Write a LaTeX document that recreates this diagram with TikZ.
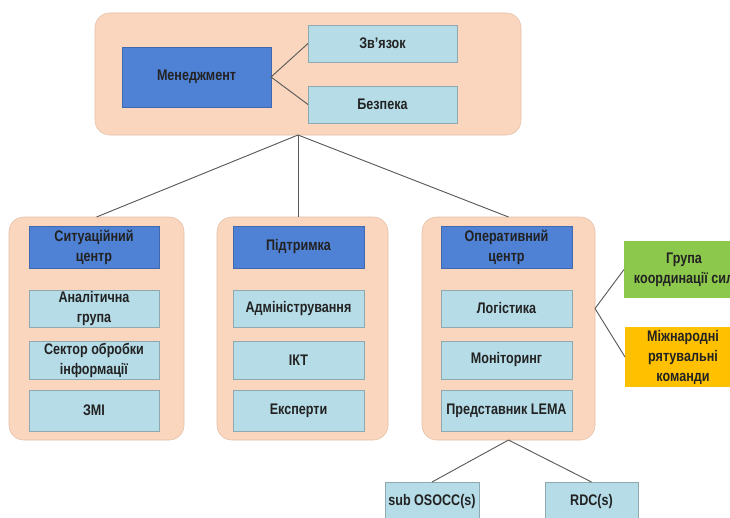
\documentclass[tikz,border=0pt]{standalone}
\usepackage{fontspec}
\setmainfont[FakeStretch=0.82]{Liberation Sans}
\usetikzlibrary{calc}

\definecolor{peach}{HTML}{F9D6BD}
\definecolor{peachedge}{HTML}{E2BFA6}
\definecolor{darkblue}{HTML}{4F81D4}
\definecolor{darkblueedge}{HTML}{3F68AE}
\definecolor{paleblue}{HTML}{B5DCE7}
\definecolor{paleblueedge}{HTML}{8FA9B0}
\definecolor{leafgreen}{HTML}{8CC84C}
\definecolor{amber}{HTML}{FFC000}
\definecolor{linegray}{HTML}{5A5A5A}
\definecolor{inkgray}{HTML}{222222}

\begin{document}
\begin{tikzpicture}[x=0.75pt,y=-0.75pt,
    every node/.style={font=\bfseries\fontsize{11.5}{15}\selectfont, text=inkgray,
        align=center, inner sep=0pt, outer sep=0pt, rectangle},
    group/.style 2 args={fill=peach, draw=peachedge, rounded corners=11pt,
        minimum width=#1, minimum height=#2},
    head/.style 2 args={fill=darkblue, draw=darkblueedge, minimum width=#1, minimum height=#2},
    unit/.style 2 args={fill=paleblue, draw=paleblueedge, minimum width=#1, minimum height=#2},
    link/.style={draw=linegray, line width=0.7pt}]
    \useasboundingbox (0,0) rectangle (730,517);

    \node[group={319.5pt}{91.5pt}] (top) at (308,74) {};
    \node[head={111.75pt}{45pt}] (mgmt) at (196.5,77) {Менеджмент};
    \node[unit={111.75pt}{27.75pt}] (zv) at (382.5,43.5) {Зв’язок};
    \node[unit={111.75pt}{27.75pt}] (bez) at (382.5,104.5) {Безпека};
    \draw[link] (mgmt.east)--(zv.west);
    \draw[link] (mgmt.east)--(bez.west);

    \node[group={131.25pt}{167.25pt}] (sit) at (96.5,328.5) {};
    \node[group={128.25pt}{167.25pt}] (sup) at (302.5,328.5) {};
    \node[group={129.75pt}{167.25pt}] (ops) at (508.5,328.5) {};

    \node[head={97.5pt}{31.5pt}] (sithead) at (94,247) {Ситуаційний\\центр};
    \node[unit={97.5pt}{27.75pt}] (anal) at (94,308.5) {Аналітична\\група};
    \node[unit={97.5pt}{28.5pt}] (sect) at (94,360) {Сектор обробки\\інформації};
    \node[unit={97.5pt}{30.75pt}] (media) at (94,410.5) {ЗМІ};

    \node[head={98.25pt}{31.5pt}] (suphead) at (298.5,247) {Підтримка};
    \node[unit={98.25pt}{27.75pt}] (adm) at (298.5,308.5) {Адміністрування};
    \node[unit={98.25pt}{28.5pt}] (ikt) at (298.5,360) {ІКТ};
    \node[unit={98.25pt}{30.75pt}] (exp) at (298.5,410.5) {Експерти};

    \node[head={98.25pt}{31.5pt}] (opshead) at (506.5,247) {Оперативний\\центр};
    \node[unit={98.25pt}{27.75pt}] (log) at (506.5,308.5) {Логістика};
    \node[unit={98.25pt}{28.5pt}] (mon) at (506.5,360) {Моніторинг};
    \node[unit={98.25pt}{30.75pt}] (lema) at (506.5,410.5) {Представник LEMA};

    \coordinate (hub) at ($(top.south)+(-10,0)$);
    \draw[link] (hub)--(sit.north);
    \draw[link] (hub)--(hub |- sup.north);
    \draw[link] (hub)--(ops.north);

    \node[fill=leafgreen, minimum width=90pt, minimum height=42.75pt] (coord) at (684,269.5) {Група\\координації сил};
    \node[fill=amber, minimum width=87pt, minimum height=45pt] (rescue) at (683,357) {Міжнародні\\рятувальні\\команди};
    \coordinate (opsjoint) at (ops.east |- log.east);
    \draw[link] (opsjoint)--(coord.west);
    \draw[link] (opsjoint)--(rescue.west);

    \node[unit={70.5pt}{30pt}] (sub) at (432,502) {sub OSOCC(s)};
    \node[unit={69.75pt}{30pt}] (rdc) at (591.5,502) {RDC(s)};
    \draw[link] (ops.south)--(sub.north);
    \draw[link] (ops.south)--(rdc.north);
\end{tikzpicture}
\end{document}
